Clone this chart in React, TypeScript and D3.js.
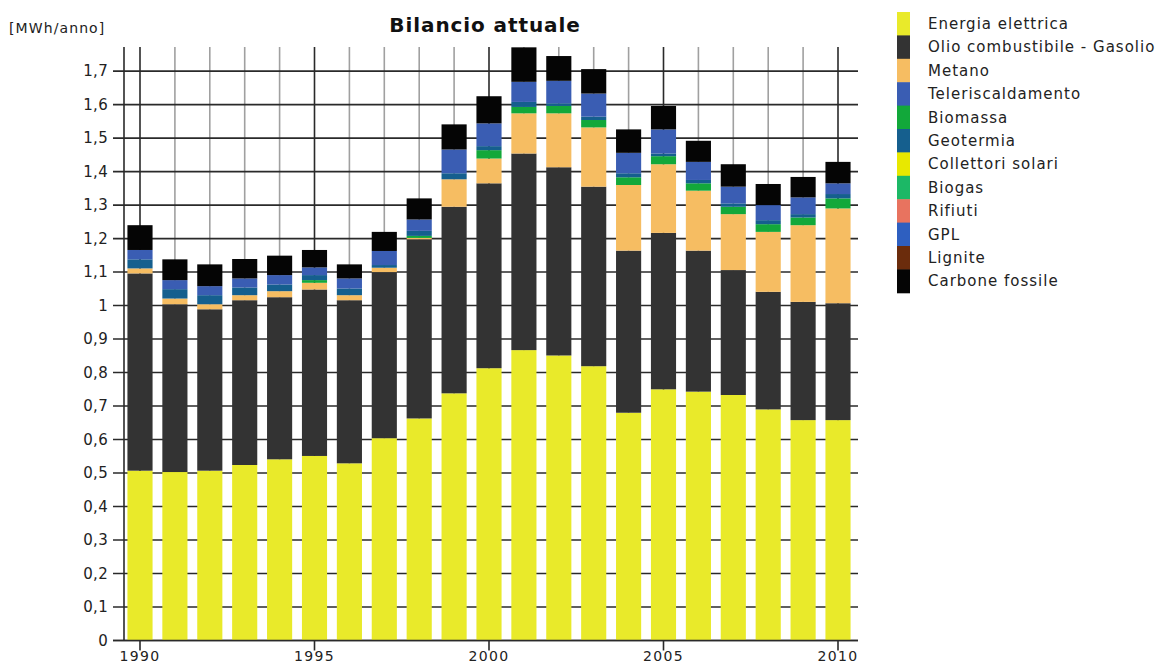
import React from "react";
import * as d3 from "d3";

const years = [1990, 1991, 1992, 1993, 1994, 1995, 1996, 1997, 1998, 1999, 2000, 2001, 2002, 2003, 2004, 2005, 2006, 2007, 2008, 2009, 2010];

const energiaElettrica = [0.507, 0.503, 0.507, 0.524, 0.541, 0.551, 0.529, 0.604, 0.663, 0.738, 0.813, 0.867, 0.851, 0.819, 0.68, 0.75, 0.743, 0.733, 0.69, 0.658, 0.658];
const olioGasolio = [0.589, 0.501, 0.482, 0.492, 0.484, 0.497, 0.487, 0.496, 0.535, 0.557, 0.552, 0.587, 0.562, 0.536, 0.484, 0.467, 0.421, 0.373, 0.351, 0.353, 0.349];
const metano = [0.015, 0.017, 0.015, 0.015, 0.018, 0.02, 0.015, 0.013, 0.004, 0.082, 0.074, 0.12, 0.161, 0.177, 0.196, 0.205, 0.179, 0.167, 0.179, 0.229, 0.283];
const biomassa = [0, 0, 0, 0, 0, 0.008, 0, 0, 0.006, 0, 0.025, 0.019, 0.022, 0.022, 0.023, 0.024, 0.022, 0.022, 0.023, 0.023, 0.03];
const geotermia = [0.027, 0.028, 0.027, 0.023, 0.02, 0.015, 0.02, 0.008, 0.015, 0.018, 0.012, 0.015, 0.008, 0.01, 0.012, 0.008, 0.01, 0.01, 0.012, 0.01, 0.013];
const collettoriSolari = [0, 0, 0, 0, 0, 0, 0, 0, 0, 0, 0, 0, 0, 0, 0, 0, 0, 0, 0, 0, 0];
const biogas = [0, 0, 0, 0, 0, 0, 0, 0, 0, 0, 0, 0, 0, 0, 0, 0, 0, 0, 0, 0, 0];
const rifiuti = [0, 0, 0, 0, 0, 0, 0, 0, 0, 0, 0, 0, 0, 0, 0, 0, 0, 0, 0, 0, 0];
const teleriscaldamento = [0.028, 0.027, 0.027, 0.027, 0.028, 0.023, 0.03, 0.042, 0.034, 0.071, 0.068, 0.06, 0.067, 0.069, 0.061, 0.072, 0.054, 0.05, 0.045, 0.05, 0.032];
const gpl = [0, 0, 0, 0, 0, 0, 0, 0, 0, 0, 0, 0, 0, 0, 0, 0, 0, 0, 0, 0, 0];
const lignite = [0, 0, 0, 0, 0, 0, 0, 0, 0, 0, 0, 0, 0, 0, 0, 0, 0, 0, 0, 0, 0];
const carboneFossile = [0.074, 0.062, 0.065, 0.058, 0.058, 0.052, 0.042, 0.057, 0.063, 0.075, 0.081, 0.103, 0.074, 0.073, 0.07, 0.07, 0.063, 0.067, 0.063, 0.061, 0.064];

const legendLabels = [
  "Energia elettrica",
  "Olio combustibile - Gasolio",
  "Metano",
  "Teleriscaldamento",
  "Biomassa",
  "Geotermia",
  "Collettori solari",
  "Biogas",
  "Rifiuti",
  "GPL",
  "Lignite",
  "Carbone fossile",
];
const legendColors = ["#e9ea2a", "#333333", "#f6bd62", "#3a5db3", "#12a83a", "#155f8e", "#e8e800", "#1cb866", "#e8735f", "#2e5fc0", "#6b2c0c", "#050505"];

// stacking order (bottom to top)
const stackKeys = [
  "Energia elettrica",
  "Olio combustibile - Gasolio",
  "Metano",
  "Collettori solari",
  "Biogas",
  "Rifiuti",
  "Biomassa",
  "Geotermia",
  "Teleriscaldamento",
  "GPL",
  "Lignite",
  "Carbone fossile",
];
const seriesByKey: Record<string, number[]> = {
  "Energia elettrica": energiaElettrica,
  "Olio combustibile - Gasolio": olioGasolio,
  Metano: metano,
  Teleriscaldamento: teleriscaldamento,
  Biomassa: biomassa,
  Geotermia: geotermia,
  "Collettori solari": collettoriSolari,
  Biogas: biogas,
  Rifiuti: rifiuti,
  GPL: gpl,
  Lignite: lignite,
  "Carbone fossile": carboneFossile,
};

const yTicks = [0, 0.1, 0.2, 0.3, 0.4, 0.5, 0.6, 0.7, 0.8, 0.9, 1, 1.1, 1.2, 1.3, 1.4, 1.5, 1.6, 1.7];
const xTickYears = [1990, 1995, 2000, 2005, 2010];

const FONT = "'DejaVu Sans', Verdana, sans-serif";

export default function App() {
  const W = 1168;
  const H = 666;
  const plotLeft = 124;
  const plotRight = 858;
  const plotTop = 47;
  const plotBottom = 640.5;

  const x = d3.scaleLinear().domain([1990, 2010]).range([140, 838]);
  const y = d3.scaleLinear().domain([0, 1.772]).range([plotBottom, plotTop]);
  const step = x(1991) - x(1990);
  const barW = step * 0.72;

  const table = years.map((yr, i) => {
    const row: Record<string, number> = { year: yr };
    stackKeys.forEach((k) => (row[k] = seriesByKey[k][i]));
    return row;
  });
  const stacked = d3.stack<Record<string, number>>().keys(stackKeys)(table);
  const colorOf = (k: string) => legendColors[legendLabels.indexOf(k)];

  const loc = d3.formatLocale({ decimal: ",", thousands: ".", grouping: [3], currency: ["", "€"] });
  const fmt = loc.format(".1~f");

  const legX = 897;
  const legY0 = 12;
  const legStep = 23.4;

  return (
    <svg width={W} height={H} style={{ position: "absolute", left: 0, top: 0, background: "#fff" }} fontFamily={FONT}>
      <rect x={0} y={0} width={W} height={H} fill="#fff" />
      {/* vertical grid lines */}
      {years.map((yr, i) => (
        <line
          key={"vg" + yr}
          x1={x(yr)}
          x2={x(yr)}
          y1={plotTop}
          y2={plotBottom}
          stroke={i % 5 === 0 ? "#2a2a2a" : "#a0a0a0"}
          strokeWidth={1.6}
        />
      ))}
      {/* horizontal grid lines + y ticks */}
      {yTicks.map((t) => (
        <line key={"hg" + t} x1={113} x2={plotRight} y1={y(t)} y2={y(t)} stroke="#2a2a2a" strokeWidth={1.6} />
      ))}
      {/* y axis line */}
      <line x1={plotLeft} x2={plotLeft} y1={plotTop} y2={plotBottom} stroke="#2a2a2a" strokeWidth={1.6} />
      {/* bars */}
      {stacked.map((s) => (
        <g key={s.key} fill={colorOf(s.key)}>
          {s.map((d, i) => {
            const h = y(d[0]) - y(d[1]);
            if (h <= 0) return null;
            return <rect key={i} x={x(years[i]) - barW / 2} y={y(d[1])} width={barW} height={h} />;
          })}
        </g>
      ))}
      {/* x axis */}
      <line x1={113} x2={plotRight} y1={plotBottom} y2={plotBottom} stroke="#2a2a2a" strokeWidth={1.6} />
      {xTickYears.map((yr) => (
        <g key={"xt" + yr}>
          <line x1={x(yr)} x2={x(yr)} y1={plotBottom} y2={plotBottom + 10} stroke="#2a2a2a" strokeWidth={1.6} />
          <text x={x(yr)} y={661} textAnchor="middle" fontSize={14} fill="#222" letterSpacing={1.4}>
            {String(yr)}
          </text>
        </g>
      ))}
      {/* y tick labels */}
      {yTicks.map((t) => (
        <text key={"yl" + t} x={108} y={y(t) + 5} textAnchor="end" fontSize={15} fill="#222" letterSpacing={0.3}>
          {fmt(t)}
        </text>
      ))}
      {/* unit label */}
      <text x={9} y={33} fontSize={14} fill="#222" letterSpacing={1.1}>
        [MWh/anno]
      </text>
      {/* title */}
      <text x={485} y={32} textAnchor="middle" fontSize={20} fontWeight="bold" fill="#111" letterSpacing={0.9}>
        Bilancio attuale
      </text>
      {/* legend */}
      {legendLabels.map((lab, i) => (
        <g key={"lg" + lab}>
          <rect x={legX} y={legY0 + i * legStep} width={13} height={legStep + 0.5} fill={legendColors[i]} />
          <text x={928} y={legY0 + i * legStep + 17} fontSize={15} fill="#222" letterSpacing={1}>
            {lab}
          </text>
        </g>
      ))}
    </svg>
  );
}
